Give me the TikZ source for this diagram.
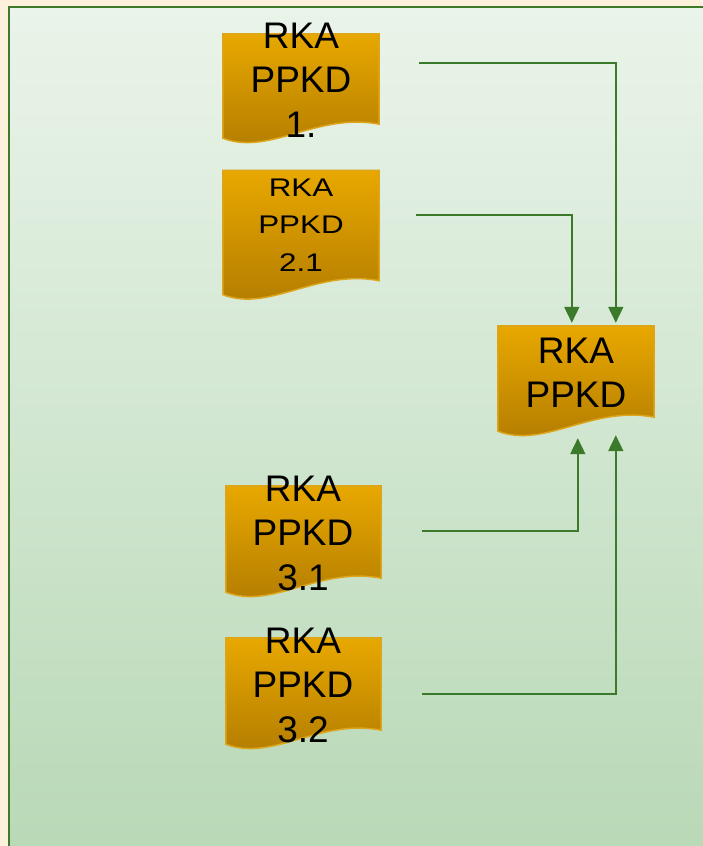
\documentclass[tikz,border=0pt]{standalone}
\usepackage{fontspec}
\setmainfont{Liberation Sans}
\newfontfamily\widefont[FakeStretch=1.23]{Liberation Sans}
\usetikzlibrary{arrows.meta,calc}
\definecolor{cream}{HTML}{FDF1DC}
\definecolor{bgtop}{HTML}{EAF4EA}
\definecolor{bgbot}{HTML}{B7D8B5}
\definecolor{frame}{HTML}{3D7B2B}
\definecolor{linkc}{HTML}{3B7A2A}
\definecolor{doctop}{HTML}{E8A800}
\definecolor{docbot}{HTML}{B07A00}
\definecolor{docedge}{HTML}{DCA51C}
\tikzset{
  docbox/.style={minimum width=156pt, minimum height=#1, inner sep=0pt, draw=none},
  docfill/.style={top color=doctop, bottom color=docbot, draw=docedge, line width=1.5pt},
  bigtxt/.style={inner sep=0pt, align=center, font=\fontsize{37}{44.5}\selectfont},
  smalltxt/.style={inner sep=0pt, align=center, font=\widefont\fontsize{25.5}{37.5}\selectfont},
  conn/.style={draw=linkc, line width=1.8pt, -{Triangle[width=15pt,length=16pt]}}
}
\newcommand\docshape[1]{%
  \shade[docfill] (#1.north west) -- (#1.north east) -- ($(#1.south east)+(0,-14)$)
   .. controls ($(#1.south west)!0.6!(#1.south east)+(0,-26)$) and ($(#1.south west)!0.3!(#1.south east)+(0,18)$) .. (#1.south west) -- cycle;}
\begin{document}
\begin{tikzpicture}[x=1pt,y=-1pt]
\useasboundingbox (0,0) rectangle (702,846);
\fill[cream] (0,0) rectangle (702,846);
\shade[top color=bgtop, bottom color=bgbot, draw=frame, line width=2pt] (9,7) rectangle (720,870);

% document shapes
\node[docbox=104pt] (d1) at (301,86) {};
\node[docbox=124pt] (d2) at (301,232.5) {};
\node[docbox=105pt] (m) at (576,378.5) {};
\node[docbox=106pt, minimum width=155pt] (d3) at (303.5,539) {};
\node[docbox=106pt, minimum width=155pt] (d4) at (303.5,691) {};
\docshape{d1}
\docshape{d2}
\docshape{m}
\docshape{d3}
\docshape{d4}

% texts
\node[bigtxt] (t1) at (301,80) {RKA\\PPKD\\1.};
\node[smalltxt] (t2) at (301,225) {RKA\\PPKD\\2.1};
\node[bigtxt] (tm) at (576,373) {RKA\\PPKD};
\node[bigtxt] (t3) at (303,533) {RKA\\PPKD\\3.1};
\node[bigtxt] (t4) at (303,685) {RKA\\PPKD\\3.2};

% connector ends
\coordinate (s1) at (419,63);
\coordinate (s2) at (416,215);
\coordinate (s3) at (422,531);
\coordinate (s4) at (422,694);
\coordinate (a1) at ($(m.north west)+(118,-3)$);
\coordinate (a2) at ($(m.north west)+(74,-3)$);
\coordinate (b1) at ($(m.south west)+(80,7)$);
\coordinate (b2) at ($(m.south west)+(118,4)$);

\draw[conn] (s1) -| (a1);
\draw[conn] (s2) -| (a2);
\draw[conn] (s3) -| (b1);
\draw[conn] (s4) -| (b2);
\end{tikzpicture}
\end{document}
